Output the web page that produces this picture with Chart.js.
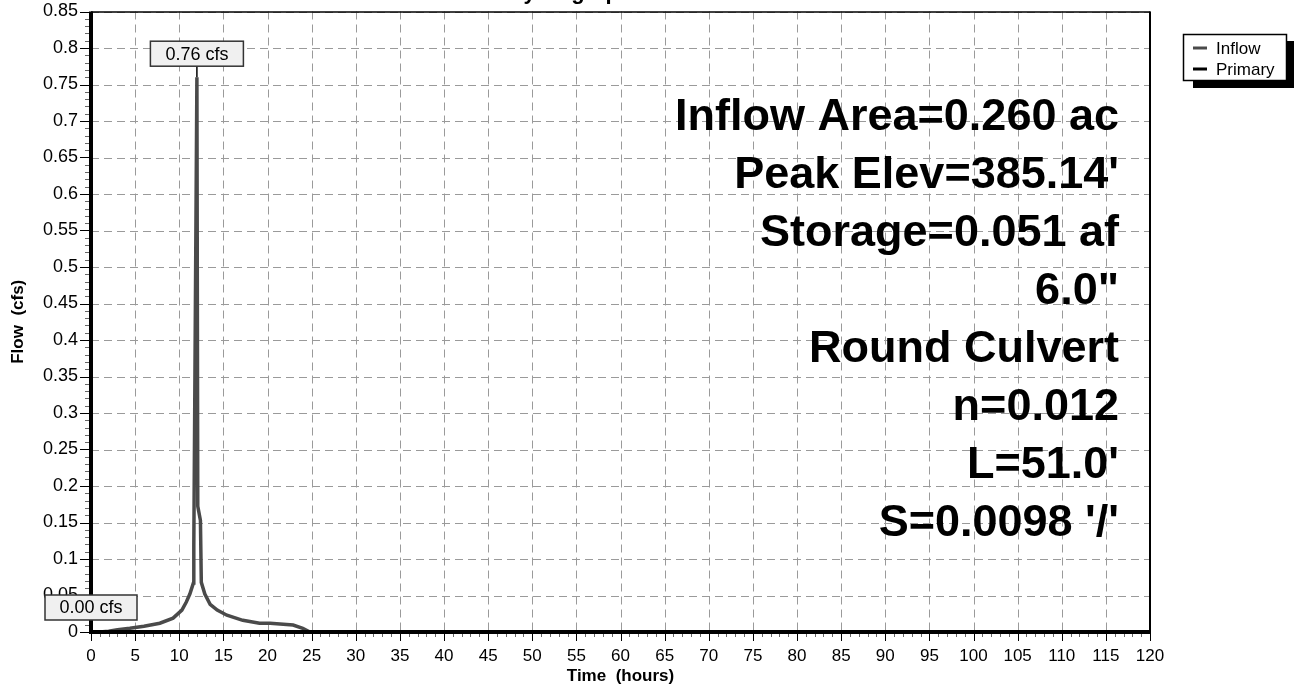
<!DOCTYPE html>
<html>
<head>
<meta charset="utf-8">
<script src="https://cdn.jsdelivr.net/npm/chart.js@4.4.1/dist/chart.umd.min.js"></script>
<style>
  html, body { margin: 0; padding: 0; background: #fff; }
  #wrap { width: 1294px; height: 684px; }
</style>
</head>
<body>
<div id="wrap"><canvas id="c" width="1294" height="684"></canvas></div>
<script>
// ---- Data ----
const inflowHours = [0, 1, 2, 3, 4.4, 6, 7.8, 9.3, 10.3, 10.8, 11.2, 11.6, 11.65, 12.0, 12.1, 12.4, 12.5, 12.9, 13.5, 14.3, 15.4, 17.2, 19.1, 20.3, 22.9, 24.0, 24.8, 120];
const inflowCfs   = [0, 0, 0.001, 0.003, 0.005, 0.008, 0.012, 0.019, 0.03, 0.041, 0.052, 0.067, 0.12, 0.76, 0.172, 0.153, 0.068, 0.052, 0.038, 0.03, 0.023, 0.016, 0.012, 0.012, 0.0096, 0.005, 0, 0];
const primaryHours = [0, 120];
const primaryCfs   = [0, 0];
const seriesNames = ['Inflow', 'Primary'];
const peakLabels = ['0.76 cfs', '0.00 cfs'];
const infoLines = ["Inflow Area=0.260 ac", "Peak Elev=385.14'", "Storage=0.051 af", "6.0\"", "Round Culvert", "n=0.012", "L=51.0'", "S=0.0098 '/'"];
const chartTitle = 'Hydrograph';
const xTitle = 'Time  (hours)';
const yTitle = 'Flow  (cfs)';

const FONT = "'Liberation Sans', Arial, Helvetica, sans-serif";
const inflowColor = '#4a4a4a';
const primaryColor = '#000000';

function toPoints(xs, ys) { return xs.map((x, i) => ({ x: x, y: ys[i] })); }

function drawBox(ctx, left, top, w, h, text) {
  ctx.save();
  ctx.fillStyle = '#f0f0f0';
  ctx.fillRect(left, top, w, h);
  ctx.strokeStyle = '#333';
  ctx.lineWidth = 1.5;
  ctx.setLineDash([]);
  ctx.strokeRect(left, top, w, h);
  ctx.fillStyle = '#000';
  ctx.font = '18px ' + FONT;
  ctx.textAlign = 'center';
  ctx.textBaseline = 'middle';
  ctx.fillText(text, left + w / 2, top + h / 2 + 1);
  ctx.restore();
}

const overlay = {
  id: 'overlay',
  beforeDatasetsDraw(chart) {
    const { ctx, chartArea: a, scales: { x, y } } = chart;
    ctx.save();
    ctx.strokeStyle = '#9a9a9a';
    ctx.lineWidth = 1;
    ctx.setLineDash([8, 5]);
    x.ticks.forEach(t => {
      const px = Math.round(x.getPixelForValue(t.value)) + 0.5;
      ctx.beginPath(); ctx.moveTo(px, a.top); ctx.lineTo(px, a.bottom); ctx.stroke();
    });
    y.ticks.forEach(t => {
      const py = Math.round(y.getPixelForValue(t.value)) + 0.5;
      ctx.beginPath(); ctx.moveTo(a.left, py); ctx.lineTo(a.right, py); ctx.stroke();
    });
    ctx.restore();
  },
  afterDatasetsDraw(chart) {
    const { ctx, chartArea: a, scales: { x, y } } = chart;
    ctx.save();
    ctx.setLineDash([]);
    // minor / major ticks
    ctx.lineWidth = 1;
    for (let h = 0; h <= 120; h += 1) {
      const px = Math.round(x.getPixelForValue(h)) + 0.5;
      const major = h % 5 === 0;
      ctx.strokeStyle = major ? '#000' : '#666';
      ctx.beginPath(); ctx.moveTo(px, a.bottom); ctx.lineTo(px, a.bottom + (major ? 9 : 5)); ctx.stroke();
    }
    for (let k = 0; k <= 85; k += 1) {
      const py = Math.round(y.getPixelForValue(k / 100)) + 0.5;
      const major = k % 5 === 0;
      ctx.strokeStyle = major ? '#000' : '#666';
      ctx.beginPath(); ctx.moveTo(a.left, py); ctx.lineTo(a.left - (major ? 11 : 6), py); ctx.stroke();
    }
    // borders
    ctx.strokeStyle = '#000';
    ctx.lineWidth = 1.5;
    ctx.beginPath(); ctx.moveTo(a.left, a.top + 0.5); ctx.lineTo(a.right, a.top + 0.5); ctx.stroke();
    ctx.lineWidth = 2;
    ctx.beginPath(); ctx.moveTo(a.right, a.top); ctx.lineTo(a.right, a.bottom); ctx.stroke();
    ctx.lineWidth = 4;
    ctx.beginPath(); ctx.moveTo(a.left, a.top); ctx.lineTo(a.left, a.bottom + 2); ctx.stroke();
    ctx.beginPath(); ctx.moveTo(a.left - 2, a.bottom); ctx.lineTo(a.right, a.bottom); ctx.stroke();

    // peak label for Inflow
    let pi = 0;
    inflowCfs.forEach((v, i) => { if (v > inflowCfs[pi]) pi = i; });
    const ppx = x.getPixelForValue(inflowHours[pi]);
    const ppy = y.getPixelForValue(inflowCfs[pi]);
    ctx.strokeStyle = '#000';
    ctx.lineWidth = 1.5;
    ctx.beginPath(); ctx.moveTo(ppx, ppy - 11); ctx.lineTo(ppx, ppy); ctx.stroke();
    drawBox(ctx, ppx - 46.5, ppy - 36, 93, 25, peakLabels[0]);
    // peak label for Primary
    const zy = y.getPixelForValue(0);
    drawBox(ctx, a.left - 46, zy - 37, 92, 25, peakLabels[1]);

    // info text
    ctx.fillStyle = '#000';
    ctx.font = 'bold 45px ' + FONT;
    ctx.textAlign = 'right';
    ctx.textBaseline = 'alphabetic';
    infoLines.forEach((s, i) => ctx.fillText(s, 1119, 130 + i * 58));

    // legend
    ctx.fillStyle = '#000';
    ctx.fillRect(1193, 41, 104, 47);
    ctx.fillStyle = '#fff';
    ctx.fillRect(1183, 34, 104, 47);
    ctx.strokeStyle = '#000';
    ctx.lineWidth = 1.5;
    ctx.strokeRect(1183.5, 34.5, 103, 46);
    const legCols = [inflowColor, primaryColor];
    ctx.font = '17px ' + FONT;
    ctx.textAlign = 'left';
    ctx.textBaseline = 'middle';
    seriesNames.forEach((n, i) => {
      const ly = 48 + i * 21;
      ctx.strokeStyle = legCols[i];
      ctx.lineWidth = 3;
      ctx.beginPath(); ctx.moveTo(1193, ly); ctx.lineTo(1207, ly); ctx.stroke();
      ctx.fillStyle = '#000';
      ctx.fillText(n, 1216, ly + 1);
    });

    // titles
    ctx.fillStyle = '#000';
    ctx.font = 'bold 22px ' + FONT;
    ctx.textAlign = 'center';
    ctx.textBaseline = 'alphabetic';
    ctx.fillText(chartTitle, 570, -1);
    ctx.font = 'bold 17px ' + FONT;
    ctx.textBaseline = 'middle';
    ctx.fillText(xTitle, (a.left + a.right) / 2, 676);
    ctx.save();
    ctx.translate(18, (a.top + a.bottom) / 2);
    ctx.rotate(-Math.PI / 2);
    ctx.fillText(yTitle, 0, 0);
    ctx.restore();
    ctx.restore();
  }
};

new Chart(document.getElementById('c'), {
  type: 'line',
  data: {
    datasets: [
      { label: seriesNames[0], data: toPoints(inflowHours, inflowCfs), borderColor: inflowColor, borderWidth: 3.5, pointRadius: 0, tension: 0, fill: false, order: 2 },
      { label: seriesNames[1], data: toPoints(primaryHours, primaryCfs), borderColor: primaryColor, borderWidth: 3, pointRadius: 0, tension: 0, fill: false, order: 1 }
    ]
  },
  options: {
    responsive: false,
    animation: false,
    events: [],
    layout: { padding: { top: 0, right: 144, left: 0, bottom: 0 } },
    plugins: { legend: { display: false }, title: { display: false }, tooltip: { enabled: false } },
    scales: {
      x: {
        type: 'linear', min: 0, max: 120,
        grid: { display: false }, border: { display: false },
        ticks: { stepSize: 5, color: '#000', font: { family: FONT, size: 17 }, padding: 6, maxRotation: 0, autoSkip: false },
        afterFit(s) { s.height = 52; }
      },
      y: {
        type: 'linear', min: 0, max: 0.85,
        grid: { display: false }, border: { display: false },
        ticks: { stepSize: 0.05, color: '#000', font: { family: FONT, size: 18 }, padding: 5, autoSkip: false,
          callback: v => String(Number(v.toFixed(2))) },
        afterFit(s) { s.width = 91; s.paddingTop = 11.5; s.paddingBottom = 0; }
      }
    }
  },
  plugins: [overlay]
});
</script>
</body>
</html>
